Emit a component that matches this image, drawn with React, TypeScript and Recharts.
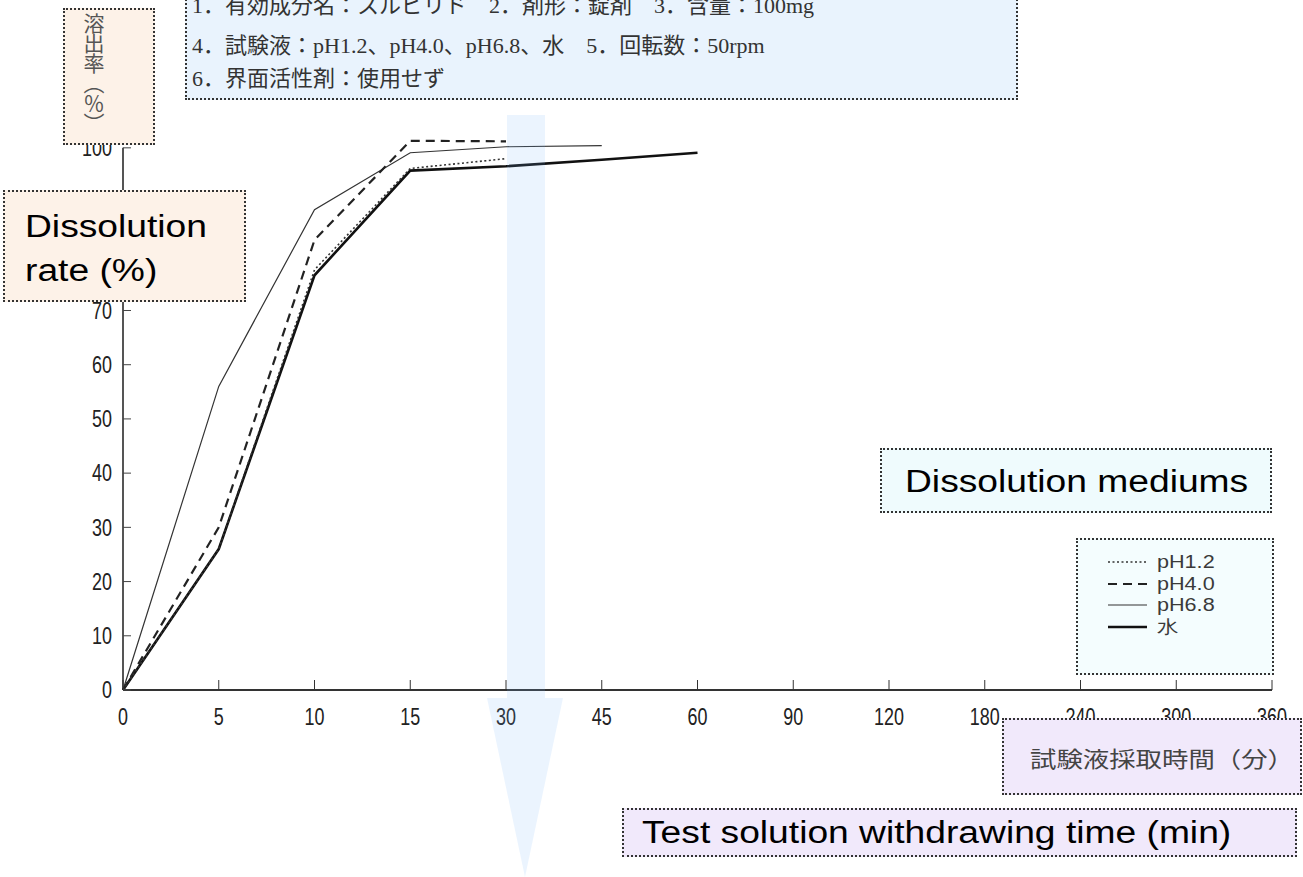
import React from "react";
import { LineChart, Line, XAxis, YAxis, Legend, ReferenceLine } from "recharts";

// sampling times (min) shown as equally spaced categories
const times = ["0", "5", "10", "15", "30", "45", "60", "90", "120", "180", "240", "300", "360"];

// dissolution rate (%) per medium
const ph12 = [0, 26, 77.5, 96.2, 98.0];
const ph40 = [0, 30, 83, 101.3, 101.2];
const ph68 = [0, 56, 88.6, 99.1, 100.2, 100.4];
const water = [0, 26, 76.5, 95.8, 96.6, 97.8, 99.1];

const yTicks = [0, 10, 20, 30, 40, 50, 60, 70, 80, 90, 100];

const conditionLines = [
  "1．有効成分名：スルピリド　2．剤形：錠剤　3．含量：100mg",
  "4．試験液：pH1.2、pH4.0、pH6.8、水　5．回転数：50rpm",
  "6．界面活性剤：使用せず",
];
const conditionTops = [-9, 31, 64];

const series = [
  { key: "ph12", name: "pH1.2", width: 1.6, dash: "2 2.5", color: "#333" },
  { key: "ph40", name: "pH4.0", width: 2.2, dash: "9 6", color: "#222" },
  { key: "ph68", name: "pH6.8", width: 1.2, dash: undefined, color: "#333" },
  { key: "water", name: "水", width: 2.6, dash: undefined, color: "#111" },
];

const data = times.map((time, i) => ({
  time,
  ph12: ph12[i] ?? null,
  ph40: ph40[i] ?? null,
  ph68: ph68[i] ?? null,
  water: water[i] ?? null,
}));

const sansFont = "'Liberation Sans', Arial, sans-serif";
const cjkFont = "'Noto Sans CJK JP', sans-serif";
const border = "2px dotted #333";

// narrow digits like the scanned axis labels
const NarrowTick = ({ x, y, payload, textAnchor, dy }: any) => (
  <text
    transform={`translate(${x},${y}) scale(0.78,1)`}
    x={0}
    y={0}
    dy={dy}
    textAnchor={textAnchor}
    fill="#222"
    fontSize={23}
    fontFamily={sansFont}
  >
    {payload.value}
  </text>
);

const XTick = (props: any) => <NarrowTick {...props} dy={22.5} />;
const YTick = (props: any) => <NarrowTick {...props} dy={8.2} />;

function Box({ left, top, width, height, bg }: any) {
  return (
    <div
      style={{
        position: "absolute",
        left,
        top,
        width,
        height,
        boxSizing: "border-box",
        border,
        background: bg,
      }}
    />
  );
}

function Stretched({ left, top, size, font, color = "#000", lineHeight, children }: any) {
  return (
    <div
      style={{
        position: "absolute",
        left,
        top,
        fontSize: size,
        fontFamily: font,
        color,
        lineHeight: lineHeight + "px",
        whiteSpace: "nowrap",
        transform: "scaleX(1.2)",
        transformOrigin: "left top",
      }}
    >
      {children}
    </div>
  );
}

const renderLegend = (props: any) => {
  const items = [...(props.payload ?? [])].sort(
    (a, b) =>
      series.findIndex((s) => s.key === a.dataKey) - series.findIndex((s) => s.key === b.dataKey)
  );
  return (
    <div
      style={{
        width: 198,
        height: 137,
        boxSizing: "border-box",
        border,
        background: "#f4fdfe",
        paddingTop: 11,
        paddingLeft: 30,
      }}
    >
      {items.map((entry: any) => {
        const s = series.find((x) => x.key === entry.dataKey)!;
        return (
          <div key={s.key} style={{ display: "flex", alignItems: "center", height: 21.7 }}>
            <svg width={39} height={6}>
              <line
                x1={0}
                y1={3}
                x2={39}
                y2={3}
                stroke={s.color}
                strokeWidth={s.width}
                strokeDasharray={s.dash}
              />
            </svg>
            <span
              style={{
                marginLeft: 10,
                fontSize: 18,
                lineHeight: "18px",
                color: "#3a3a3a",
                fontFamily: sansFont,
                display: "inline-block",
                transform: "scaleX(1.2)",
                transformOrigin: "left center",
              }}
            >
              {entry.value}
            </span>
          </div>
        );
      })}
    </div>
  );
};

export default function App() {
  return (
    <div style={{ position: "relative", width: 1303, height: 877, overflow: "hidden", background: "#fff" }}>
      <style>{"body{margin:0}"}</style>
      <LineChart
        width={1303}
        height={877}
        data={data}
        margin={{ top: 137, right: 31, bottom: 157, left: 0 }}
      >
        <XAxis
          dataKey="time"
          interval={0}
          height={30}
          tickSize={-10}
          tickMargin={23}
          axisLine={{ stroke: "#333", strokeWidth: 2 }}
          tickLine={{ stroke: "#333" }}
          tick={XTick}
        />
        <YAxis
          width={123}
          type="number"
          domain={[0, 102]}
          ticks={yTicks}
          axisLine={false}
          tickSize={-8}
          tickMargin={19}
          tickLine={{ stroke: "#444" }}
          tick={YTick}
        />
        <ReferenceLine
          segment={[
            { x: "0", y: 0 },
            { x: "0", y: 100 },
          ]}
          stroke="#555"
          strokeWidth={2}
        />
        <Legend
          layout="horizontal"
          verticalAlign="middle"
          align="center"
          content={renderLegend}
          wrapperStyle={{ left: 1076, top: 538, width: 198, height: 137 }}
        />
        {[...series].reverse().map((s) => (
          <Line
            key={s.key}
            type="linear"
            dataKey={s.key}
            name={s.name}
            stroke={s.color}
            strokeWidth={s.width}
            strokeDasharray={s.dash}
            dot={false}
            activeDot={false}
            isAnimationActive={false}
          />
        ))}
      </LineChart>

      <svg
        width={1303}
        height={877}
        style={{ position: "absolute", left: 0, top: 0, pointerEvents: "none" }}
      >
        <path
          d="M507 115 L545 115 L545 698 L563 698 L525 877 L487 698 L507 698 Z"
          fill="rgb(120,180,245)"
          fillOpacity={0.15}
        />
      </svg>

      <Box left={185} top={-20} width={833} height={120} bg="#e9f3fd" />
      {conditionLines.map((line, i) => (
        <div
          key={i}
          style={{
            position: "absolute",
            left: 192,
            top: conditionTops[i],
            fontSize: 22,
            lineHeight: "30px",
            fontFamily: "'Liberation Serif', 'Noto Sans CJK JP', serif",
            color: "#333",
            whiteSpace: "nowrap",
          }}
        >
          {line}
        </div>
      ))}

      <Box left={63} top={8} width={92} height={137} bg="#fdf2e8" />
      <div
        style={{
          position: "absolute",
          left: 83,
          top: 13,
          writingMode: "vertical-rl",
          textOrientation: "upright",
          fontSize: 21,
          fontFamily: cjkFont,
          color: "#555",
          lineHeight: "22px",
          letterSpacing: -1,
        }}
      >
        溶出率（％）
      </div>

      <Box left={3} top={190} width={243} height={112} bg="#fdf2e8" />
      <Stretched left={25} top={205} size={31} font={sansFont} lineHeight={44}>
        Dissolution
        <br />
        rate (%)
      </Stretched>

      <Box left={880} top={448} width={392} height={65} bg="#effbfd" />
      <Stretched left={905} top={460} size={31} font={sansFont} lineHeight={44}>
        Dissolution mediums
      </Stretched>

      <Box left={1002} top={718} width={300} height={77} bg="#f1e9fb" />
      <Stretched left={1030} top={742} size={22} font={cjkFont} color="#444" lineHeight={30}>
        試験液採取時間（分）
      </Stretched>

      <Box left={622} top={808} width={675} height={49} bg="#f1e9fb" />
      <Stretched left={642} top={811} size={31} font={sansFont} lineHeight={44}>
        Test solution withdrawing time (min)
      </Stretched>
    </div>
  );
}
